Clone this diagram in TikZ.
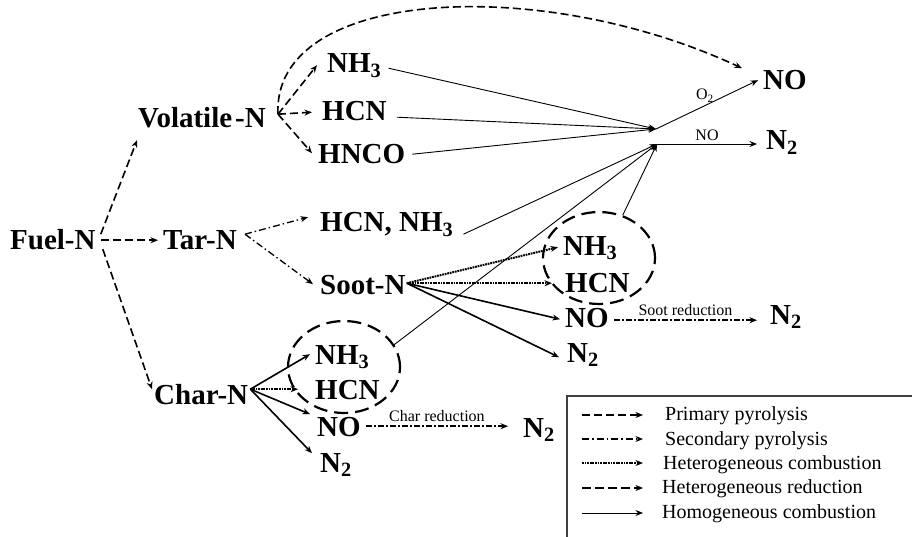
\documentclass[tikz,border=0pt]{standalone}
\usepackage{fontspec}
\setmainfont{Liberation Serif}
\usetikzlibrary{arrows.meta,shapes.geometric,calc}

\begin{document}
\begin{tikzpicture}[x=1pt,y=-1pt,
  spc/.style={anchor=base west, font=\fontsize{29}{30}\selectfont\bfseries,
    text height=19.6pt, text depth=0pt, inner xsep=5pt, inner ysep=2pt},
  lbl/.style={font=\fontsize{16}{17}\selectfont, inner sep=1pt},
  leg/.style={anchor=base west, font=\fontsize{20}{22}\selectfont, inner sep=0pt},
  arrowtip/.style={-{Stealth[length=7.5pt,width=6pt]}},
  primary/.style={arrowtip, line width=1.6pt, dash pattern=on 8pt off 4pt},
  secondary/.style={arrowtip, line width=1.3pt, dash pattern=on 7pt off 3pt on 1.5pt off 3pt},
  hetcomb/.style={arrowtip, line width=2pt, dash pattern=on 1.8pt off 0.8pt},
  hetred/.style={arrowtip, line width=2.6pt, dash pattern=on 9pt off 4pt},
  homog/.style={arrowtip, line width=0.9pt},
  hetsolid/.style={arrowtip, line width=1.6pt},
  reduct/.style={arrowtip, line width=1.5pt, dash pattern=on 6pt off 2pt on 2pt off 2pt},
  cluster/.style={ellipse, draw, line width=2.2pt, dash pattern=on 14pt off 7pt,
    inner sep=0pt, minimum width=112pt, minimum height=92pt},
]
\fill[white] (0,0) rectangle (912,537);
\useasboundingbox (0,0) rectangle (912,537);

% species
\node[spc] (fuel)  at (5,250)   {Fuel-N};
\node[spc] (tar)   at (158,250) {Tar-N};
\node[spc] (vol)   at (133,128) {Volatile\hspace{3pt}-N};
\node[spc] (char)  at (149,404) {Char-N};
\node[spc] (nh3v)  at (322,73)  {NH\textsubscript{3}};
\node[spc] (hcnv)  at (317,121) {HCN};
\node[spc] (hnco)  at (313,164) {HNCO};
\node[spc] (tarp)  at (315,232) {HCN, NH\textsubscript{3}};
\node[spc] (soot)  at (315,294) {Soot-N};
\node[spc] (nh3s)  at (558,255) {NH\textsubscript{3}};
\node[spc] (hcns)  at (560,292) {HCN};
\node[spc] (nos)   at (560,327) {NO};
\node[spc] (n2s)   at (562,362) {N\textsubscript{2}};
\node[spc] (n2sr)  at (765,324) {N\textsubscript{2}};
\node[spc] (nh3c)  at (310,364) {NH\textsubscript{3}};
\node[spc] (hcnc)  at (310,399) {HCN};
\node[spc] (noc)   at (312,436) {NO};
\node[spc] (n2c)   at (315,472) {N\textsubscript{2}};
\node[spc] (n2cr)  at (518,437) {N\textsubscript{2}};
\node[spc] (notop) at (758,90)  {NO};
\node[spc] (n2top) at (761,150) {N\textsubscript{2}};

% dashed groups of heterogeneous products
\node[cluster] (sg) at (599,258) {};
\node[cluster] (cg) at (344,367) {};

% junctions of the gas-phase routes
\coordinate (c1) at (656,129);
\coordinate (c2) at (657,144);
\coordinate (vh) at ($(vol.east)+(7,-4)$);
\coordinate (th) at ($(tar.east)+(3,-6)$);
\coordinate (sh) at ($(soot.east)+(-4,-1)$);
\coordinate (ch) at ($(char.east)+(-3,-5)$);
\coordinate (sr) at ($(nos.east)+(0,3)$);

% primary pyrolysis
\draw[primary] ($(fuel.east)+(0,-6)$) -- ($(vol.south west)+(4,10)$);
\draw[primary] (fuel.east) -- (tar.west);
\draw[primary] ($(fuel.east)+(2,9)$) -- ($(char.north west)+(3,7)$);
\draw[primary] (vh) -- ($(nh3v.west)+(-5,2)$);
\draw[primary] (vh) -- ($(hcnv.west)+(-5,1)$);
\draw[primary] (vh) -- ($(hnco.west)+(-1,-1)$);
\draw[primary] (vh) .. controls (272,-12) and (540,-26) .. ($(notop.north west)+(-16,0)$);

% secondary pyrolysis
\draw[secondary] (th) -- ($(tarp.west)+(-7,-5)$);
\draw[secondary] (th) -- ($(soot.west)+(-2,0)$);

% soot routes
\draw[hetcomb]  (sh) -- ($(nh3s.west)+(0,2)$);
\draw[hetcomb]  (sh) -- ($(hcns.west)+(-8,1)$);
\draw[hetsolid] (sh) -- ($(nos.west)+(0,2)$);
\draw[hetsolid] (sh) -- ($(n2s.west)+(-3,5)$);
\draw[reduct] (sr) -- ($(sr -| n2sr.west)+(-8,0)$)
  node[lbl, midway, above=3pt] {Soot reduction};

% char routes
\draw[hetsolid] (ch) -- (nh3c.west);
\draw[hetcomb]  (ch) -- ($(hcnc.west)+(-12,0)$);
\draw[hetsolid] (ch) -- ($(noc.north west)+(-2,0)$);
\draw[hetsolid] (ch) -- ($(n2c.north west)+(-3,3)$);
\draw[reduct] (noc.east) -- ($(noc.east -| n2cr.west)+(-10,0)$)
  node[lbl, midway, above=3pt] {Char reduction};

% homogeneous combustion
\draw[homog] ($(nh3v.east)+(2,5)$) -- (c1);
\draw[homog] ($(hcnv.east)+(5,6)$) -- (c1);
\draw[homog] ($(hnco.east)+(2,0)$) -- (c1);
\draw[homog] (c1) -- (notop.west);
\node[lbl] (o2) at (705,96) {O\textsubscript{2}};
\draw[homog] ($(tarp.east)+(5,12)$) -- (c2);
\draw[homog] (cg.24) -- (c2);
\draw[homog] (sg.61) -- (c2);
\draw[homog] (c2) -- ($(c2 -| n2top.west)+(-4,0)$)
  node[lbl, midway, above=2pt] {NO};

% legend
\draw[line width=1.3pt, black!75] (912,396) -- (567,396) -- (567,537);
\coordinate (l1a) at (582,415); \coordinate (l1b) at (643,415);
\coordinate (l2a) at (582,439); \coordinate (l2b) at (643,439);
\coordinate (l3a) at (582,463); \coordinate (l3b) at (643,463);
\coordinate (l4a) at (582,488); \coordinate (l4b) at (643,488);
\coordinate (l5a) at (582,513); \coordinate (l5b) at (643,513);
\draw[primary]   (l1a) -- (l1b);
\draw[secondary] (l2a) -- (l2b);
\draw[hetcomb]   (l3a) -- (l3b);
\draw[hetred]    (l4a) -- (l4b);
\draw[homog]     (l5a) -- (l5b);
\node[leg] (t1) at (665,420) {Primary pyrolysis};
\node[leg] (t2) at (665,445) {Secondary pyrolysis};
\node[leg] (t3) at (663,469) {Heterogeneous combustion};
\node[leg] (t4) at (662,493) {Heterogeneous reduction};
\node[leg] (t5) at (662,518) {Homogeneous combustion};
\end{tikzpicture}
\end{document}
